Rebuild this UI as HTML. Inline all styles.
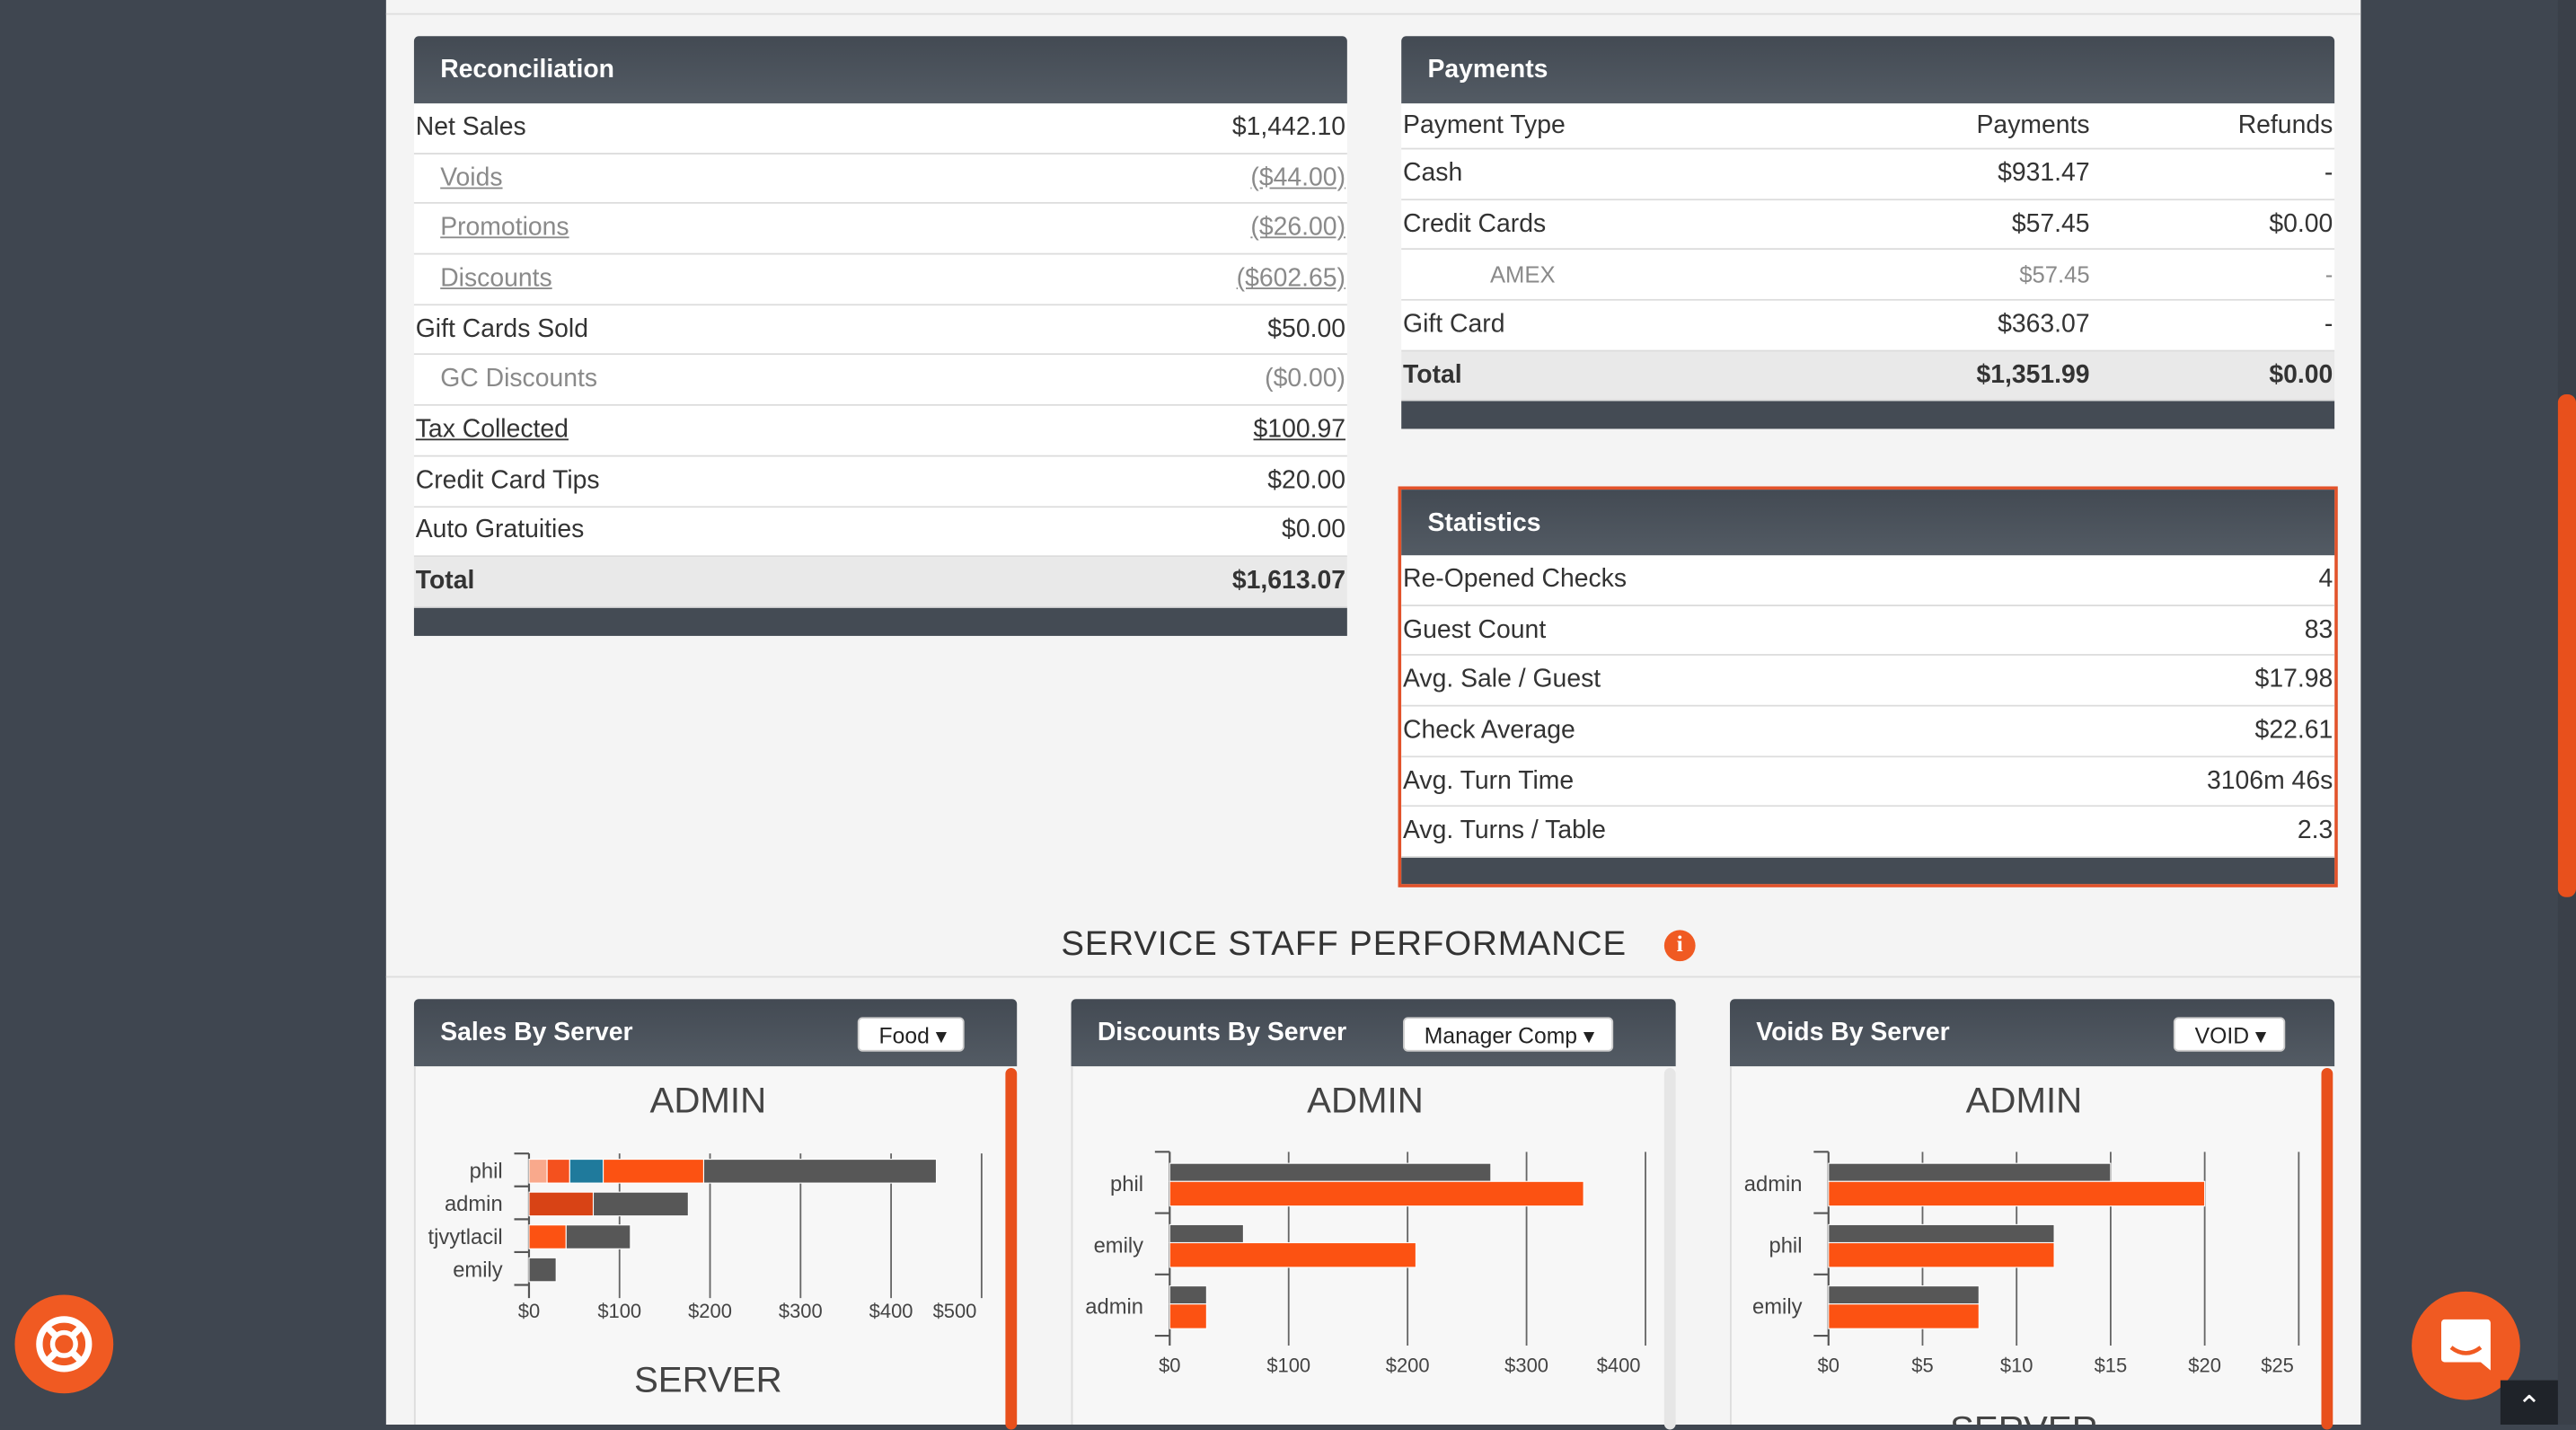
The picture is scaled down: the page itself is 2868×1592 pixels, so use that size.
<!DOCTYPE html>
<html><head><meta charset="utf-8">
<style>
*{box-sizing:border-box;margin:0;padding:0}
html,body{width:2868px;height:1586px;overflow:hidden;background:#3f4650;font-family:"Liberation Sans",sans-serif}
#root{position:absolute;left:0;top:0;width:1568px;height:867px;transform:scale(1.82908,1.82930);transform-origin:0 0;background:#3f4650}
.abs{position:absolute}
.main{left:235px;top:0;width:1202px;height:867px;background:#f4f4f4}
.panel{position:absolute}
.ph{height:41px;background:linear-gradient(#434a53,#535b64);border-radius:3px 3px 0 0;color:#fff;font-weight:bold;font-size:15.5px;padding:12px 0 0 16px}
.row{display:flex;justify-content:space-between;align-items:center;height:30.7px;background:#fff;border-bottom:1px solid #dcdcdc;font-size:15.5px;color:#333;padding:0 1px}
.row.sub{padding-left:16px;color:#8a8a8a}
.row.sub span{text-decoration:underline}
.row.tot{background:#e9e9e9;font-weight:bold}
.foot{height:17px;background:#444b54}
.u{text-decoration:underline}
.c{width:150px;text-align:right}
.btn{position:absolute;top:11px;height:21px;background:#fff;border-radius:3px;color:#222;font-size:13.5px;font-weight:normal;padding:3px 10px 0 12px;border:1px solid #ccc}
.cbody{background:#f7f7f7;border-left:1px solid #ddd;height:218px}
svg text{font-family:"Liberation Sans",sans-serif}
</style></head><body>
<div id="root">
<div class="abs main">
 <div class="abs" style="left:0;top:8px;width:1202px;height:1px;background:#ddd"></div>
</div>

<div class="panel" style="left:252px;top:22px;width:568px">
 <div class="ph">Reconciliation</div>
 <div class="row"><span>Net Sales</span><span>$1,442.10</span></div>
 <div class="row sub"><span>Voids</span><span>($44.00)</span></div>
 <div class="row sub"><span>Promotions</span><span>($26.00)</span></div>
 <div class="row sub"><span>Discounts</span><span>($602.65)</span></div>
 <div class="row"><span>Gift Cards Sold</span><span>$50.00</span></div>
 <div class="row" style="padding-left:16px;color:#8a8a8a"><span>GC Discounts</span><span>($0.00)</span></div>
 <div class="row"><span class="u">Tax Collected</span><span class="u">$100.97</span></div>
 <div class="row"><span>Credit Card Tips</span><span>$20.00</span></div>
 <div class="row"><span>Auto Gratuities</span><span>$0.00</span></div>
 <div class="row tot"><span>Total</span><span>$1,613.07</span></div>
 <div class="foot"></div>
</div>

<div class="panel" style="left:853px;top:22px;width:568px">
 <div class="ph">Payments</div>
 <div class="row" style="height:28px;position:relative"><span style="flex:1">Payment Type</span><span class="c" style="margin-right:148px">Payments</span><span style="position:absolute;right:1px">Refunds</span></div>
 <div class="row" style="position:relative"><span style="flex:1">Cash</span><span class="c" style="margin-right:148px">$931.47</span><span style="position:absolute;right:1px">-</span></div>
 <div class="row" style="position:relative"><span style="flex:1">Credit Cards</span><span class="c" style="margin-right:148px">$57.45</span><span style="position:absolute;right:1px">$0.00</span></div>
 <div class="row" style="position:relative;color:#8a8a8a;font-size:14px"><span style="flex:1;padding-left:53px">AMEX</span><span class="c" style="margin-right:148px">$57.45</span><span style="position:absolute;right:1px">-</span></div>
 <div class="row" style="position:relative"><span style="flex:1">Gift Card</span><span class="c" style="margin-right:148px">$363.07</span><span style="position:absolute;right:1px">-</span></div>
 <div class="row tot" style="position:relative"><span style="flex:1">Total</span><span class="c" style="margin-right:148px">$1,351.99</span><span style="position:absolute;right:1px">$0.00</span></div>
 <div class="foot"></div>
</div>

<div class="panel" style="left:851px;top:296px;width:572px;height:244px;border:2px solid #e2522a">
 <div class="ph" style="height:40px;border-radius:0">Statistics</div>
 <div class="row"><span>Re-Opened Checks</span><span>4</span></div>
 <div class="row"><span>Guest Count</span><span>83</span></div>
 <div class="row"><span>Avg. Sale / Guest</span><span>$17.98</span></div>
 <div class="row"><span>Check Average</span><span>$22.61</span></div>
 <div class="row"><span>Avg. Turn Time</span><span>3106m 46s</span></div>
 <div class="row"><span>Avg. Turns / Table</span><span>2.3</span></div>
 <div class="foot" style="height:16px"></div>
</div>

<div class="abs" style="left:235px;top:563px;width:1166px;text-align:center;font-size:21px;color:#333;letter-spacing:0.5px">SERVICE STAFF PERFORMANCE</div>
<div class="abs" style="left:1013px;top:566px;width:19px;height:19px;border-radius:50%;background:#f05a22;color:#fff;font-weight:bold;font-size:14px;text-align:center;line-height:19px;font-family:'Liberation Serif',serif">i</div>
<div class="abs" style="left:235px;top:594px;width:1202px;height:1px;background:#ddd"></div>

<div class="panel" style="left:252px;top:608px;width:367px">
 <div class="ph">Sales By Server<div class="btn" style="left:270px">Food ▾</div></div>
 <div class="cbody"></div>
 <div class="abs" style="left:360px;top:42px;width:7px;height:220px;background:#e8501c;border-radius:4px"></div>
</div>
<div class="panel" style="left:652px;top:608px;width:368px">
 <div class="ph">Discounts By Server<div class="btn" style="left:202px">Manager Comp ▾</div></div>
 <div class="cbody"></div>
 <div class="abs" style="left:361px;top:42px;width:7px;height:220px;background:#e6e6e6;border-radius:4px"></div>
</div>
<div class="panel" style="left:1053px;top:608px;width:368px">
 <div class="ph">Voids By Server<div class="btn" style="left:270px">VOID ▾</div></div>
 <div class="cbody"></div>
 <div class="abs" style="left:360px;top:42px;width:7px;height:220px;background:#e8501c;border-radius:4px"></div>
</div>

<svg id="charts" class="abs" style="left:0;top:0" width="1568" height="867"></svg>

<div class="abs" style="left:1557px;top:0;width:11px;height:867px;background:#3a4049"></div>
<div class="abs" style="left:1557px;top:240px;width:11px;height:306px;background:#e8501c;border-radius:5px"></div>
<div class="abs" style="left:9px;top:788px;width:60px;height:60px;border-radius:50%;background:#f05a22">
 <svg width="60" height="60"><circle cx="30" cy="30" r="15" fill="none" stroke="#fff" stroke-width="4"/><circle cx="30" cy="30" r="7" fill="none" stroke="#fff" stroke-width="3"/><g stroke="#fff" stroke-width="4"><line x1="19" y1="19" x2="25" y2="25"/><line x1="41" y1="19" x2="35" y2="25"/><line x1="19" y1="41" x2="25" y2="35"/><line x1="41" y1="41" x2="35" y2="35"/></g></svg>
</div>
<div class="abs" style="left:1468px;top:786px;width:66px;height:66px;border-radius:50%;background:#f05a22">
 <svg width="66" height="66"><path d="M20 17h26a2 2 0 0 1 2 2v29l-6-5H20a2 2 0 0 1-2-2V19a2 2 0 0 1 2-2z" fill="#fff"/><path d="M24 34q9 7 18 0" fill="none" stroke="#f05a22" stroke-width="2.5"/></svg>
</div>
<div class="abs" style="left:1522px;top:840px;width:35px;height:27px;background:#1f2329;color:#fff;text-align:center;font-size:18px;padding-top:6px">⌃</div>
</div>

<script>
const salesCats = ["phil","admin","tjvytlacil","emily"];
const salesPink = [20,0,0,0];
const salesOrangeA = [25,0,0,0];
const salesBlue = [37,0,0,0];
const salesDark = [0,71,0,0];
const salesOrangeB = [111,0,41,0];
const salesGrey = [257,105,71,30];
const salesTicks = [0,100,200,300,400,500];
const discCats = ["phil","emily","admin"];
const discCount = [270,62,31];
const discAmount = [348,207,31];
const discTicks = [0,100,200,300,400];
const voidCats = ["admin","phil","emily"];
const voidCount = [15,12,8];
const voidAmount = [20,12,8];
const voidTicks = [0,5,10,15,20,25];

const svg = document.getElementById('charts');
const NS = 'http://www.w3.org/2000/svg';
function el(tag, attrs, parent){ const e=document.createElementNS(NS,tag); for(const k in attrs) e.setAttribute(k,attrs[k]); (parent||svg).appendChild(e); return e; }
function txt(x,y,s,size,anchor,fill){ const t=el('text',{x:x,y:y,'font-size':size,'text-anchor':anchor,fill:fill||'#444'}); t.textContent=s; return t; }

function chart(cfg){
  const g = el('g',{});
  
  
  const sx = v => cfg.x0 + v*cfg.scale;
  const t1 = txt(cfg.cx, 677, 'ADMIN', 22, 'middle', '#444'); g.appendChild(t1);
  
  
  const bottom = cfg.top + cfg.band*cfg.cats.length;
  cfg.ticks.forEach((tv,i)=>{
    const x = sx(tv);
    if(i>0){ const l=el('line',{x1:x,x2:x,y1:cfg.top,y2:bottom+cfg.tickExt,stroke:'#666','stroke-width':1},g);
      
       }
    const lt = txt(i===cfg.ticks.length-1 ? x-3 : x, bottom+cfg.labelOff, '$'+tv, 12, i===cfg.ticks.length-1?'end':'middle'); g.appendChild(lt);
    
    
  });
  el('line',{x1:cfg.x0,x2:cfg.x0,y1:cfg.top,y2:bottom+cfg.tickExt,stroke:'#555','stroke-width':1.2},g);
  for(let i=0;i<=cfg.cats.length;i++){ const y=cfg.top+i*cfg.band; el('line',{x1:cfg.x0-9,x2:cfg.x0,y1:y,y2:y,stroke:'#555','stroke-width':1.2},g); }
  cfg.cats.forEach((c,i)=>{
    const yb = cfg.top+i*cfg.band;
    const lab = txt(cfg.x0-16, yb+cfg.labelY, c, 13, 'end'); g.appendChild(lab);
    
    
    cfg.draw(i, yb, sx, g);
  });
}
function rect(g,x1,x2,y,h,fill){ if(x2-x1<=0) return; const r=el('rect',{x:x1,y:y,width:x2-x1,height:h,fill:fill,stroke:'#fff','stroke-width':0.6},g);
  
   }

chart({name:'sales-chart',cx:431,x0:322,scale:0.551,top:702,band:20,tickExt:8,labelOff:20,labelY:15,cats:salesCats,ticks:salesTicks,
  draw:(i,yb,sx,g)=>{
    const series=[[salesPink,'#f9a98c'],[salesOrangeA,'#f4511e'],[salesBlue,'#1f7a9c'],[salesDark,'#d84315'],[salesOrangeB,'#fc5212'],[salesGrey,'#575757']];
    let acc=0; series.forEach(([arr,col])=>{ rect(g,sx(acc),sx(acc+arr[i]),yb+3.5,14.5,col); acc+=arr[i]; });
  }});
const t2=txt(431,847,'SERVER',22,'middle','#444');



const pairDraw = (cnt,amt)=>(i,yb,sx,g)=>{ rect(g,sx(0),sx(cnt[i]),yb+7,11,'#575757'); rect(g,sx(0),sx(amt[i]),yb+18,15,'#fc5212'); };
chart({name:'discounts-chart',cx:831,x0:712,scale:0.724,top:701,band:37.3,tickExt:6,labelOff:22,labelY:24,cats:discCats,ticks:discTicks,draw:pairDraw(discCount,discAmount)});
chart({name:'voids-chart',cx:1232,x0:1113,scale:11.45,top:701,band:37.3,tickExt:6,labelOff:22,labelY:24,cats:voidCats,ticks:voidTicks,draw:pairDraw(voidCount,voidAmount)});
const t3=txt(1232,877,'SERVER',22,'middle','#444');


</script>
</body></html>
